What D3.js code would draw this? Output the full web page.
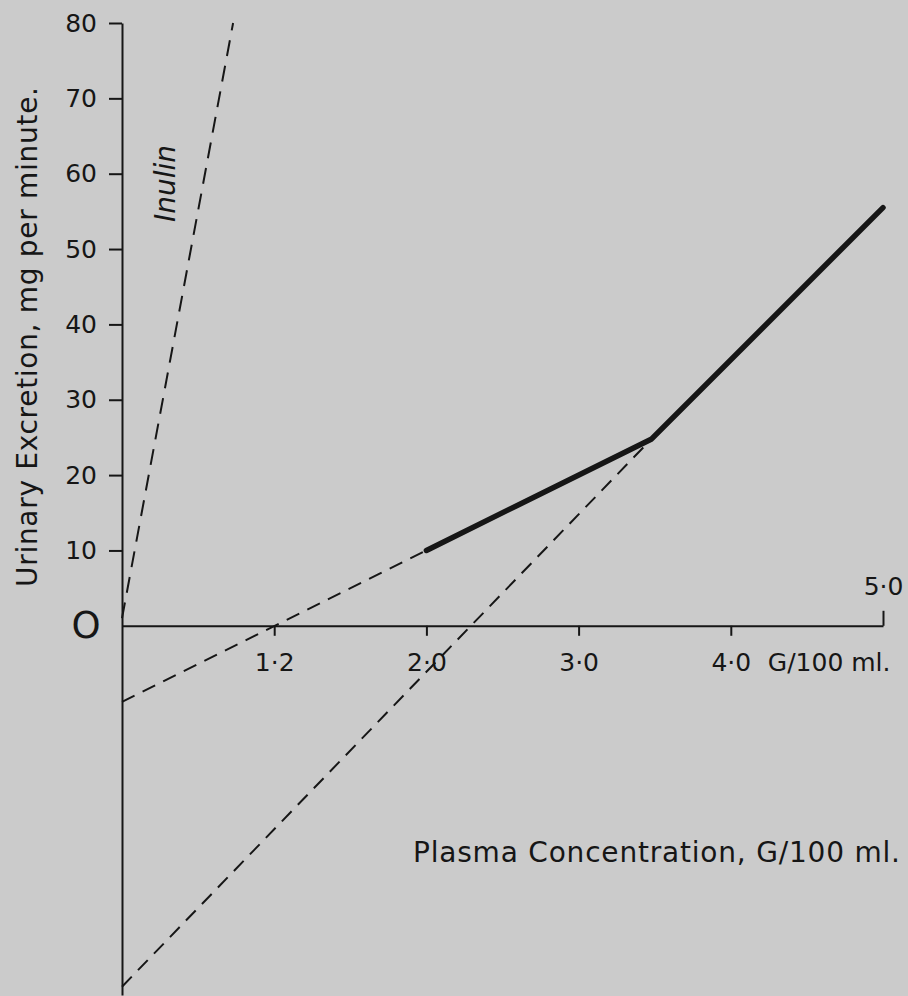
<!DOCTYPE html>
<html lang="en">
<head>
    <meta charset="UTF-8">
    <title>Urinary excretion vs plasma concentration</title>
    <style>
        html, body { margin: 0; padding: 0; background: #cbcbcb; }
        #chart svg { display: block; }
        svg text { font-family: "DejaVu Sans", sans-serif; fill: #161616; }
        .axis path, .axis line { stroke: #161616; stroke-width: 2; }
        .axis text { font-size: 25px; }
        .dashed { fill: none; stroke: #161616; stroke-width: 2; stroke-dasharray: 14, 9; }
        .inulin { stroke-dasharray: 16, 10; }
        .solid { fill: none; stroke: #161616; stroke-width: 5.5; stroke-linecap: round; stroke-linejoin: round; }
    </style>
</head>
<body>
    <div id="chart"></div>
    <script src="https://cdnjs.cloudflare.com/ajax/libs/d3/7.8.5/d3.min.js"></script>
    <script>
    // values
    var xTicks = [1, 2, 3, 4, 5];
    var xTickLabels = ["1·2", "2·0", "3·0", "4·0", "5·0"];
    var xUnit = "G/100 ml.";
    var yTicks = [10, 20, 30, 40, 50, 60, 70, 80];
    var originLabel = "O";

    var solidX = [2.0, 3.48, 5.0];
    var solidY = [10, 24.8, 55.5];

    var inulinX = [0.0, 0.73];
    var inulinY = [1, 80];

    var lowerDashX = [0.0, 2.0];
    var lowerDashY = [-10.1, 10];

    var steepDashX = [0.0, 3.46];
    var steepDashY = [-47.9, 24.4];

    var xTitle = "Plasma Concentration, G/100 ml.";
    var yTitle = "Urinary Excretion, mg per minute.";
    var inulinLabel = "Inulin";

    (function()
    {
        "use strict";

        var width = 908, height = 996;

        var svg = d3.select("#chart").append("svg")
            .attr("width", width)
            .attr("height", height)
            .attr("viewBox", [0, 0, width, height].join(" "));

        var x = d3.scaleLinear().domain([0, 5]).range([122, 883]);
        var y = d3.scaleLinear().domain([-49, 80]).range([995, 23]);

        function pairs(xs, ys)
        {
            return xs.map(function(v, i) { return [v, ys[i]]; });
        }

        var line = d3.line()
            .x(function(d) { return x(d[0]); })
            .y(function(d) { return y(d[1]); });

        // y axis
        var yAxis = svg.append("g")
            .attr("class", "axis y-axis")
            .attr("transform", "translate(" + x(0) + ",0)")
            .call(d3.axisLeft(y).tickValues(yTicks).tickSize(13).tickSizeOuter(0).tickPadding(12));
        yAxis.selectAll("text").attr("fill", "#161616");

        // x axis, ticks below for 1..4
        var xAxis = svg.append("g")
            .attr("class", "axis x-axis")
            .attr("transform", "translate(0," + y(0) + ")")
            .call(d3.axisBottom(x)
                .tickValues(xTicks.slice(0, 4))
                .tickFormat(function(d, i) { return xTickLabels[i]; })
                .tickSize(10).tickSizeOuter(0).tickPadding(17));
        xAxis.selectAll("text").attr("fill", "#161616");

        // last tick points up
        var xTop = svg.append("g")
            .attr("class", "axis x-axis-top")
            .attr("transform", "translate(0," + y(0) + ")")
            .call(d3.axisTop(x)
                .tickValues(xTicks.slice(4))
                .tickFormat(function() { return xTickLabels[4]; })
                .tickSize(15).tickSizeOuter(0).tickPadding(16));
        xTop.select(".domain").remove();
        xTop.selectAll("text").attr("fill", "#161616");

        svg.append("text")
            .attr("x", x(4) + 37)
            .attr("y", y(0) + 27)
            .attr("dy", "0.71em")
            .attr("font-size", 25)
            .text(xUnit);

        svg.append("text")
            .attr("x", x(0) - 36)
            .attr("y", y(0))
            .attr("text-anchor", "middle")
            .attr("dominant-baseline", "central")
            .attr("font-size", 37)
            .attr("font-family", "Liberation Sans, sans-serif")
            .text(originLabel);

        // lines
        svg.append("path").datum(pairs(lowerDashX, lowerDashY))
            .attr("class", "dashed").attr("d", line);
        svg.append("path").datum(pairs(steepDashX, steepDashY))
            .attr("class", "dashed").attr("d", line);
        svg.append("path").datum(pairs(inulinX, inulinY))
            .attr("class", "dashed inulin").attr("d", line);
        svg.append("path").datum(pairs(solidX, solidY))
            .attr("class", "solid").attr("d", line);

        // titles
        svg.append("text")
            .attr("x", 413)
            .attr("y", 862)
            .attr("font-size", 28)
            .attr("textLength", 487)
            .attr("lengthAdjust", "spacing")
            .text(xTitle);

        svg.append("text")
            .attr("transform", "translate(37,587) rotate(-90)")
            .attr("font-size", 28)
            .attr("textLength", 500)
            .attr("lengthAdjust", "spacing")
            .text(yTitle);

        svg.append("text")
            .attr("transform", "translate(175,222) rotate(-90)")
            .attr("font-size", 28)
            .attr("font-style", "italic")
            .text(inulinLabel);
    })();
    </script>
</body>
</html>
